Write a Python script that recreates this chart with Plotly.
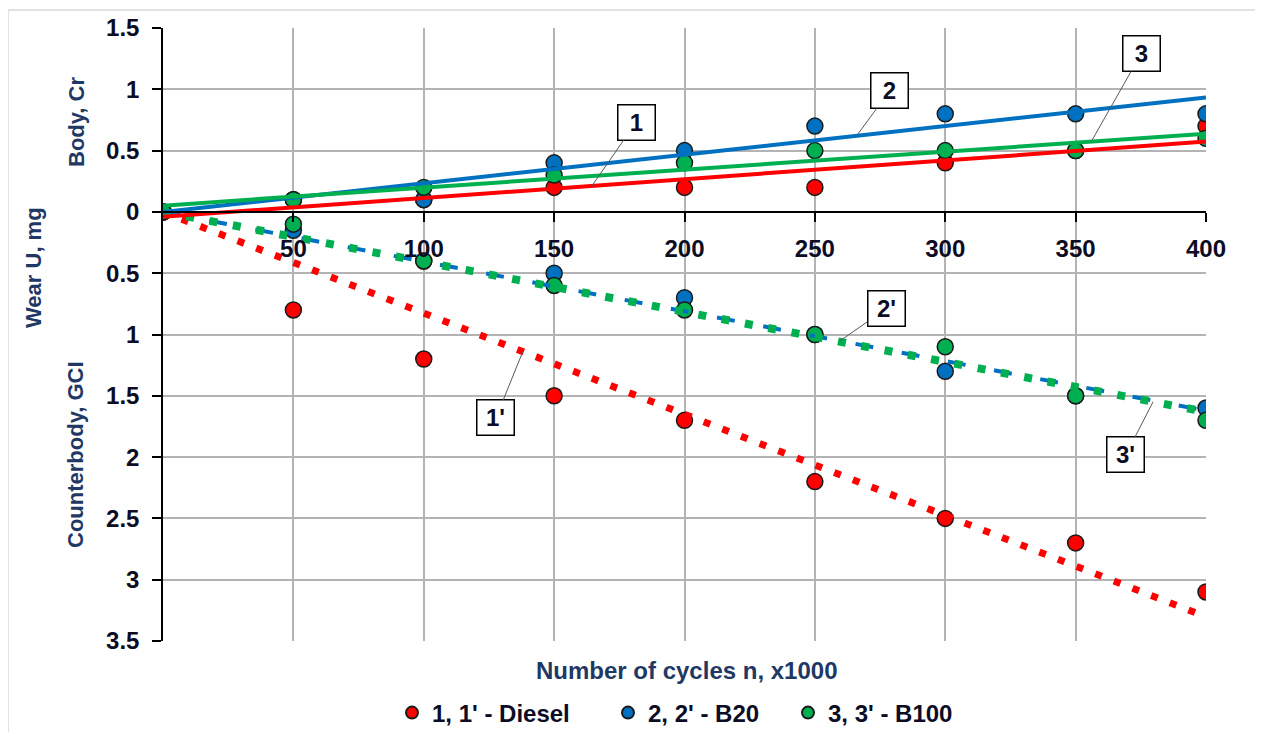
import numpy as np
import plotly.graph_objects as go

# ---------------- data ----------------
cycles = [0, 50, 100, 150, 200, 250, 300, 350, 400]          # x1000 cycles

# Body (Cr) wear, mg
body_diesel = [0, 0.1, 0.1, 0.2, 0.2, 0.2, 0.4, 0.5, 0.7]
body_b20    = [0, 0.1, 0.1, 0.4, 0.5, 0.7, 0.8, 0.8, 0.8]
body_b100   = [0, 0.1, 0.2, 0.3, 0.4, 0.5, 0.5, 0.5, 0.6]

# Counterbody (GCI) wear, mg (plotted downward)
cb_diesel = [0, 0.8, 1.2, 1.5, 1.7, 2.2, 2.5, 2.7, 3.1]
cb_b20    = [0, 0.15, 0.4, 0.5, 0.7, 1.0, 1.3, 1.5, 1.6]
cb_b100   = [0, 0.1, 0.4, 0.6, 0.8, 1.0, 1.1, 1.5, 1.7]

series_names = ["1, 1' - Diesel", "2, 2' - B20", "3, 3' - B100"]
colors = ["#FF0000", "#0070C0", "#00B050"]

y_ticks = [1.5, 1, 0.5, 0, -0.5, -1, -1.5, -2, -2.5, -3, -3.5]
x_ticks = [50, 100, 150, 200, 250, 300, 350, 400]

# ---------------- trend lines (as in the spreadsheet) ----------------
x = np.array(cycles, dtype=float)
def lin_fit(vals):
    k, b = np.polyfit(x, np.array(vals, dtype=float), 1)
    return lambda t: k * np.asarray(t, dtype=float) + b
def zero_fit(vals):
    v = np.array(vals, dtype=float)
    k = (x * v).sum() / (x * x).sum()
    return lambda t: k * np.asarray(t, dtype=float)

body_fits = [lin_fit(v) for v in (body_diesel, body_b20, body_b100)]
cb_fits = [zero_fit(v) for v in (cb_diesel, cb_b20, cb_b100)]
x_line = np.array([cycles[0], cycles[-1]], dtype=float)

FONT = "Liberation Sans, Arial, sans-serif"
TXT = "#0c0c24"
TITLE = "#1f3864"

fig = go.Figure()

legends = ["legend", "legend2", "legend3"]
for i, (b, c) in enumerate(zip((body_diesel, body_b20, body_b100), (cb_diesel, cb_b20, cb_b100))):
    mk = dict(size=16, color=colors[i], line=dict(color="#1a1a1a", width=1.5))
    fig.add_trace(go.Scatter(x=cycles, y=b, mode="markers", marker=mk,
                             name=series_names[i], legend=legends[i], showlegend=True))
    fig.add_trace(go.Scatter(x=cycles, y=[-v for v in c], mode="markers", marker=mk,
                             showlegend=False, legend=legends[i]))

# counterbody trends (dotted)
dash_styles = [dict(width=7, dash="7px,13px"), dict(width=4, dash="18px,29px"), dict(width=8, dash="8px,15.7px")]
for i in range(3):
    fig.add_trace(go.Scatter(x=x_line, y=-cb_fits[i](x_line), mode="lines",
                             line=dict(color=colors[i], **dash_styles[i]),
                             showlegend=False, hoverinfo="skip"))
# body trends (solid)
for i in range(3):
    fig.add_trace(go.Scatter(x=x_line, y=body_fits[i](x_line), mode="lines",
                             line=dict(color=colors[i], width=4),
                             showlegend=False, hoverinfo="skip"))

# ---------------- layout ----------------
OFF = 8                       # page body margin
W, H = 1263 - 2 * OFF, 740 - 2 * OFF
L, T = 163 - OFF, 28 - OFF
R = W - (1206 - OFF)
B = H - (641 - OFF)
pw, ph = W - L - R, H - T - B
def px_x(p): return (p - OFF - L) / pw          # screen px -> paper
def px_y(p): return (H - B - (p - OFF)) / ph

fig.update_layout(
    width=W, height=H,
    margin=dict(l=L, r=R, t=T, b=B, autoexpand=False),
    plot_bgcolor="white", paper_bgcolor="white",
    font=dict(family=FONT, color=TXT, weight="bold"),
    xaxis=dict(range=[0, 400], tickvals=x_ticks, ticktext=[str(v) for v in x_ticks],
               anchor="free", position=0.7, showline=True, linecolor="black", linewidth=1.5,
               ticks="outside", ticklen=9, tickwidth=1.5, tickcolor="black",
               showgrid=True, gridcolor="#b3b3b3", gridwidth=1.5, zeroline=False,
               tickfont=dict(family=FONT, size=24, color=TXT, weight="bold"),
               ticklabelstandoff=7),
    yaxis=dict(range=[-3.5, 1.5], tickvals=y_ticks, ticktext=[f"{abs(v):g}" for v in y_ticks],
               showline=True, linecolor="black", linewidth=1.5,
               ticks="outside", ticklen=9, tickwidth=1.5, tickcolor="black",
               showgrid=True, gridcolor="#b3b3b3", gridwidth=1.5, zeroline=False,
               tickfont=dict(family=FONT, size=24, color=TXT, weight="bold"),
               ticklabelstandoff=8),
)

leg_x = [412, 628, 808]
for i, name in enumerate(legends):
    fig.update_layout({name: dict(orientation="h", x=px_x(leg_x[i] - 20), y=px_y(713),
                                  xanchor="left", yanchor="middle", bgcolor="rgba(0,0,0,0)",
                                  itemsizing="constant",
                                  font=dict(family=FONT, size=24, color=TXT, weight="bold"))})

# outer chart border
fig.add_shape(type="rect", xref="paper", yref="paper",
              x0=px_x(8), x1=px_x(1256), y0=px_y(735), y1=px_y(10),
              line=dict(color="#d9d9d9", width=1.5), layer="below")

# axis titles
fig.add_annotation(text="Number of cycles n, x1000", xref="paper", yref="paper",
                   x=px_x(686), y=px_y(670), xanchor="center", yanchor="middle", showarrow=False,
                   font=dict(family=FONT, size=24, color=TITLE, weight="bold"))
for txt, cx, cy in [("Body, Cr", 77, 122), ("Wear U, mg", 33, 268), ("Counterbody, GCI", 75, 455)]:
    fig.add_annotation(text=txt, xref="paper", yref="paper", x=px_x(cx), y=px_y(cy),
                       xanchor="center", yanchor="middle",
                       textangle=-90, showarrow=False,
                       font=dict(family=FONT, size=22, color=TITLE, weight="bold"))

# curve labels
labels = [("1", body_fits[0], 164.5, 1, 181.4, 0.73),
          ("2", body_fits[1], 266.0, 1, 278.8, 0.99),
          ("3", body_fits[2], 356.0, 1, 375.1, 1.29),
          ("1'", cb_fits[0], 138.0, -1, 127.7, -1.68),
          ("2'", cb_fits[1], 259.6, -1, 277.3, -0.79),
          ("3'", cb_fits[2], 379.7, -1, 369.3, -1.98)]
for txt, f, xt, sgn, bx, by in labels:
    fig.add_annotation(text=txt, x=xt, y=sgn * float(f(xt)), xref="x", yref="y",
                       ax=bx, ay=by, axref="x", ayref="y",
                       showarrow=True, arrowhead=0, arrowwidth=1, arrowcolor="#595959",
                       bgcolor="white", bordercolor="black", borderwidth=1.5, borderpad=1,
                       width=34, height=32,
                       font=dict(family=FONT, size=24, color=TXT, weight="bold"))

fig.write_html("out.html")
